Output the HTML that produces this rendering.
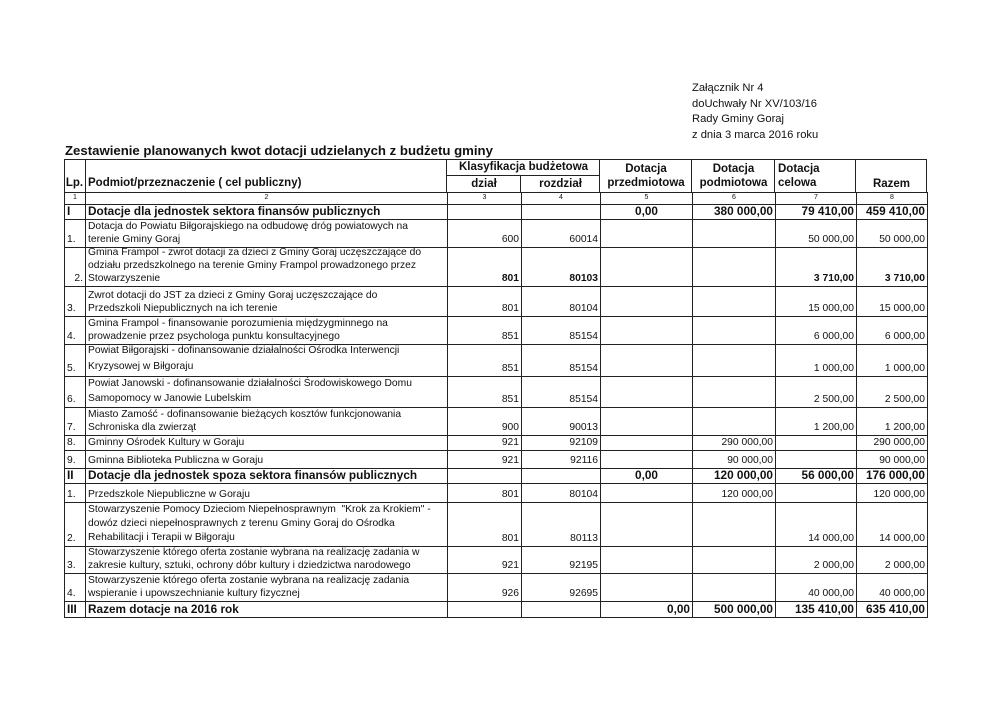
<!DOCTYPE html>
<html><head><meta charset="utf-8"><style>
body{margin:0;width:992px;height:702px;background:#fff;position:relative;font-family:"Liberation Sans",sans-serif;color:#111;overflow:hidden}
.a{position:absolute}
.r{position:absolute;left:64px;width:863px;display:grid;grid-template-columns:21px 362px 74px 79px 92px 83px 81px 71px;border-left:1px solid #222;box-sizing:border-box}
.r>div{border-right:1px solid #222;border-bottom:1px solid #222;box-sizing:border-box;display:flex;align-items:flex-end;font-size:10.3px;line-height:13px;padding:0 2px 1px 2px;overflow:hidden;white-space:nowrap}
.r>div.n{justify-content:flex-end}
.b>div{font-weight:bold;font-size:11.8px}
.h{font-size:11.5px;font-weight:bold;text-align:center;line-height:14px}
.num>div{font-size:7px;justify-content:center;align-items:center;line-height:8px;padding:0}
</style></head><body>
<div class="a" style="left:692px;top:81px;font-size:11.2px;line-height:15.5px">Załącznik Nr 4<br>doUchwały Nr XV/103/16<br>Rady Gminy Goraj<br>z dnia 3 marca 2016 roku</div>
<div class="a" style="left:65px;top:143px;font-size:13.2px;font-weight:bold">Zestawienie planowanych kwot dotacji udzielanych z budżetu gminy</div>

<div class="a" style="left:64px;top:159px;width:863px;height:34px;border:1px solid #222;box-sizing:border-box"></div>
<div class="a" style="left:85px;top:159px;width:1px;height:34px;background:#222"></div>
<div class="a" style="left:446px;top:159px;width:1px;height:34px;background:#222"></div>
<div class="a" style="left:520px;top:175px;width:1px;height:18px;background:#222"></div>
<div class="a" style="left:446px;top:175px;width:153px;height:1px;background:#222"></div>
<div class="a" style="left:599px;top:159px;width:1px;height:34px;background:#222"></div>
<div class="a" style="left:691px;top:159px;width:1px;height:34px;background:#222"></div>
<div class="a" style="left:774px;top:159px;width:1px;height:34px;background:#222"></div>
<div class="a" style="left:855px;top:159px;width:1px;height:34px;background:#222"></div>
<div class="a h" style="left:64px;top:176px;width:21px">Lp.</div>
<div class="a h" style="left:88px;top:176px;text-align:left">Podmiot/przeznaczenie ( cel publiczny)</div>
<div class="a h" style="left:447px;top:160px;width:153px">Klasyfikacja budżetowa</div>
<div class="a h" style="left:447px;top:177px;width:74px">dział</div>
<div class="a h" style="left:521px;top:177px;width:79px">rozdział</div>
<div class="a h" style="left:600px;top:162px;width:92px">Dotacja<br>przedmiotowa</div>
<div class="a h" style="left:692px;top:162px;width:83px">Dotacja<br>podmiotowa</div>
<div class="a h" style="left:778px;top:162px;text-align:left">Dotacja<br>celowa</div>
<div class="a h" style="left:856px;top:177px;width:71px">Razem</div>

<div class="r num" style="top:192px;height:13px"><div>1</div><div>2</div><div>3</div><div>4</div><div>5</div><div>6</div><div>7</div><div>8</div></div>

<div class="r b" style="top:205px;height:15px"><div>I</div><div>Dotacje dla jednostek sektora finansów publicznych</div><div></div><div></div><div style="justify-content:center">0,00</div><div class="n">380 000,00</div><div class="n">79 410,00</div><div class="n">459 410,00</div></div>

<div class="r" style="top:220px;height:28px"><div>1.</div><div>Dotacja do Powiatu Biłgorajskiego na odbudowę dróg powiatowych na<br>terenie Gminy Goraj</div><div class="n">600</div><div class="n">60014</div><div></div><div></div><div class="n">50 000,00</div><div class="n">50 000,00</div></div>

<div class="r" style="top:248px;height:39px"><div style="justify-content:flex-end">2.</div><div>Gmina Frampol - zwrot dotacji za dzieci z Gminy Goraj uczęszczające do<br>odziału przedszkolnego na terenie Gminy Frampol prowadzonego przez<br>Stowarzyszenie</div><div class="n" style="font-weight:bold">801</div><div class="n" style="font-weight:bold">80103</div><div></div><div></div><div class="n" style="font-weight:bold">3 710,00</div><div class="n" style="font-weight:bold">3 710,00</div></div>

<div class="r" style="top:287px;height:30px"><div>3.</div><div>Zwrot dotacji do JST za dzieci z Gminy Goraj uczęszczające do<br>Przedszkoli Niepublicznych na ich terenie</div><div class="n">801</div><div class="n">80104</div><div></div><div></div><div class="n">15 000,00</div><div class="n">15 000,00</div></div>

<div class="r" style="top:317px;height:28px"><div>4.</div><div>Gmina Frampol - finansowanie porozumienia międzygminnego na<br>prowadzenie przez psychologa punktu konsultacyjnego</div><div class="n">851</div><div class="n">85154</div><div></div><div></div><div class="n">6 000,00</div><div class="n">6 000,00</div></div>

<div class="r" style="top:345px;height:32px"><div>5.</div><div style="line-height:16px">Powiat Biłgorajski - dofinansowanie działalności Ośrodka Interwencji<br>Kryzysowej w Biłgoraju</div><div class="n">851</div><div class="n">85154</div><div></div><div></div><div class="n">1 000,00</div><div class="n">1 000,00</div></div>

<div class="r" style="top:377px;height:31px"><div>6.</div><div style="line-height:15px">Powiat Janowski - dofinansowanie działalności Środowiskowego Domu<br>Samopomocy w Janowie Lubelskim</div><div class="n">851</div><div class="n">85154</div><div></div><div></div><div class="n">2 500,00</div><div class="n">2 500,00</div></div>

<div class="r" style="top:408px;height:28px"><div>7.</div><div>Miasto Zamość - dofinansowanie bieżących kosztów funkcjonowania<br>Schroniska dla zwierząt</div><div class="n">900</div><div class="n">90013</div><div></div><div></div><div class="n">1 200,00</div><div class="n">1 200,00</div></div>

<div class="r" style="top:436px;height:15px"><div>8.</div><div>Gminny Ośrodek Kultury w Goraju</div><div class="n">921</div><div class="n">92109</div><div></div><div class="n">290 000,00</div><div></div><div class="n">290 000,00</div></div>

<div class="r" style="top:451px;height:18px"><div>9.</div><div>Gminna Biblioteka Publiczna w Goraju</div><div class="n">921</div><div class="n">92116</div><div></div><div class="n">90 000,00</div><div></div><div class="n">90 000,00</div></div>

<div class="r b" style="top:469px;height:15px"><div>II</div><div>Dotacje dla jednostek spoza sektora finansów publicznych</div><div></div><div></div><div style="justify-content:center">0,00</div><div class="n">120 000,00</div><div class="n">56 000,00</div><div class="n">176 000,00</div></div>

<div class="r" style="top:484px;height:19px"><div>1.</div><div>Przedszkole Niepubliczne w Goraju</div><div class="n">801</div><div class="n">80104</div><div></div><div class="n">120 000,00</div><div></div><div class="n">120 000,00</div></div>

<div class="r" style="top:503px;height:44px"><div>2.</div><div style="line-height:14px">Stowarzyszenie Pomocy Dzieciom Niepełnosprawnym&nbsp; "Krok za Krokiem" -<br>dowóz dzieci niepełnosprawnych z terenu Gminy Goraj do Ośrodka<br>Rehabilitacji i Terapii w Biłgoraju</div><div class="n">801</div><div class="n">80113</div><div></div><div></div><div class="n">14 000,00</div><div class="n">14 000,00</div></div>

<div class="r" style="top:547px;height:27px"><div>3.</div><div>Stowarzyszenie którego oferta zostanie wybrana na realizację zadania w<br>zakresie kultury, sztuki, ochrony dóbr kultury i dziedzictwa narodowego</div><div class="n">921</div><div class="n">92195</div><div></div><div></div><div class="n">2 000,00</div><div class="n">2 000,00</div></div>

<div class="r" style="top:574px;height:28px"><div>4.</div><div>Stowarzyszenie którego oferta zostanie wybrana na realizację zadania<br>wspieranie i upowszechnianie kultury fizycznej</div><div class="n">926</div><div class="n">92695</div><div></div><div></div><div class="n">40 000,00</div><div class="n">40 000,00</div></div>

<div class="r b" style="top:602px;height:16px"><div>III</div><div>Razem dotacje na 2016 rok</div><div></div><div></div><div class="n">0,00</div><div class="n">500 000,00</div><div class="n">135 410,00</div><div class="n">635 410,00</div></div>
</body></html>
